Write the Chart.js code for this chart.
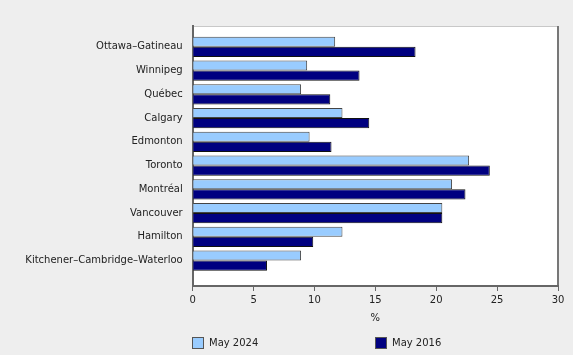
<!DOCTYPE html>
<html>
<head>
<meta charset="utf-8">
<script src="https://cdn.jsdelivr.net/npm/chart.js@4"></script>
<style>
  html, body { margin:0; padding:0; background:#eeeeee; }
  #wrap { position:relative; width:573px; height:355px; }
  canvas { position:absolute; left:0; top:0; }
  .leg { position:absolute; top:336px; height:13px; font-family:"DejaVu Sans", Verdana, sans-serif; font-size:10px; color:#222; line-height:13px; white-space:nowrap; }
  .leg span.box { display:inline-block; width:10px; height:10px; border:1px solid #555; vertical-align:top; margin-top:1px; margin-right:5px; }
</style>
</head>
<body>
<div id="wrap">
  <canvas id="c" width="573" height="355"></canvas>
  <div class="leg" style="left:192px"><span class="box" style="background:#99ccff"></span>May 2024</div>
  <div class="leg" style="left:375px"><span class="box" style="background:#000080"></span>May 2016</div>
</div>
<script>
const cities = ["Ottawa–Gatineau","Winnipeg","Québec","Calgary","Edmonton","Toronto","Montréal","Vancouver","Hamilton","Kitchener–Cambridge–Waterloo"];
const may2024 = [11.7, 9.4, 8.9, 12.3, 9.6, 22.7, 21.3, 20.5, 12.3, 8.9];
const may2016 = [18.3, 13.7, 11.3, 14.5, 11.4, 24.4, 22.4, 20.5, 9.9, 6.1];
const xTicks = [0, 5, 10, 15, 20, 25, 30];
const xTitle = "%";

const FONT = { family: "'DejaVu Sans', Verdana, sans-serif", size: 10 };

const framePlugin = {
  id: 'frame',
  beforeDraw(chart) {
    const {ctx, chartArea: a} = chart;
    ctx.save();
    ctx.fillStyle = '#ffffff';
    ctx.fillRect(a.left, a.top, a.right - a.left, a.bottom - a.top);
    ctx.strokeStyle = '#c8c8c8';
    ctx.lineWidth = 1;
    ctx.beginPath();
    ctx.moveTo(a.left, a.top + 0.5);
    ctx.lineTo(a.right, a.top + 0.5);
    ctx.stroke();
    ctx.strokeStyle = '#777777';
    ctx.lineWidth = 2;
    ctx.beginPath();
    ctx.moveTo(a.right, a.top);
    ctx.lineTo(a.right, a.bottom);
    ctx.stroke();
    ctx.restore();
  }
};

new Chart(document.getElementById('c'), {
  type: 'bar',
  data: {
    datasets: [
      { label: 'May 2024', data: may2024.map((v, i) => ({ x: v, y: i })), backgroundColor: '#99ccff', borderColor: '#444444', borderWidth: 1 },
      { label: 'May 2016', data: may2016.map((v, i) => ({ x: v, y: i })), backgroundColor: '#000080', borderColor: '#111111', borderWidth: 1 }
    ]
  },
  options: {
    indexAxis: 'y',
    responsive: false,
    animation: false,
    events: [],
    categoryPercentage: 0.85,
    barPercentage: 1.0,
    layout: { padding: { top: 26, right: 15, bottom: 19, left: 0 } },
    plugins: { legend: { display: false }, tooltip: { enabled: false } },
    scales: {
      x: {
        type: 'linear',
        min: 0, max: 30,
        afterBuildTicks: s => { s.ticks = xTicks.map(v => ({ value: v })); },
        afterFit: s => { s.height = 50; },
        grid: { drawOnChartArea: false, drawTicks: true, tickLength: 5, color: '#666666', lineWidth: 1 },
        border: { display: true, color: '#666666', width: 2 },
        ticks: { color: '#222222', font: FONT, padding: 3, maxRotation: 0 },
        title: { display: true, text: xTitle, color: '#222222', font: FONT, padding: { top: 4, bottom: 12 } }
      },
      y: {
        type: 'linear',
        reverse: true,
        offset: false,
        min: -0.877, max: 10.07,
        afterBuildTicks: s => { s.ticks = cities.map((c, i) => ({ value: i })); },
        afterFit: s => { s.width = 192.7; },
        grid: { display: false, drawTicks: false, offset: false },
        border: { display: true, color: '#666666', width: 2 },
        ticks: { color: '#222222', font: FONT, padding: 10, autoSkip: false, callback: v => cities[v] }
      }
    }
  },
  plugins: [framePlugin]
});
</script>
</body>
</html>
